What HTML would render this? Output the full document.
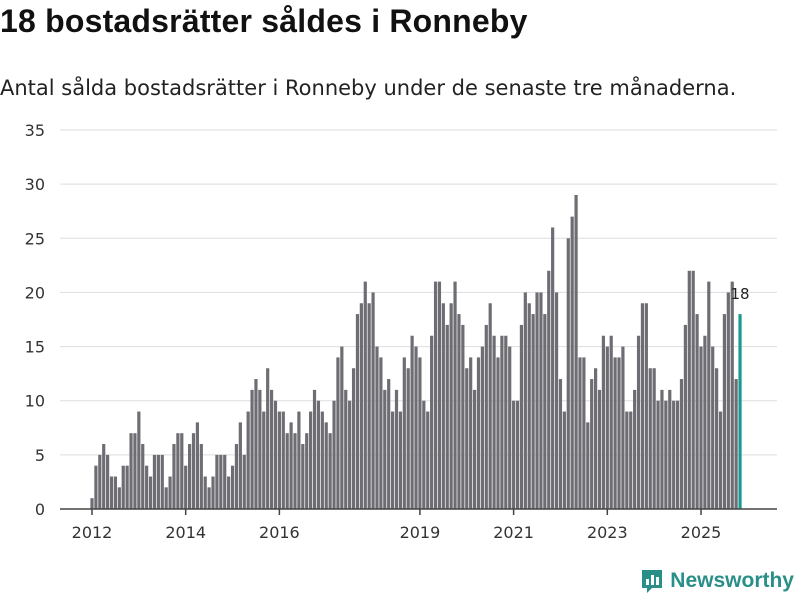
<!DOCTYPE html>
<html><head><meta charset="utf-8">
<style>
body{margin:0;width:800px;height:600px;background:#fff;font-family:"Liberation Sans","DejaVu Sans",sans-serif;overflow:hidden;position:relative}
#title{position:absolute;left:0;top:3px;font-size:32px;font-weight:bold;color:#111;white-space:nowrap;letter-spacing:0.2px}
#sub{position:absolute;left:0;top:76px;font-size:21px;color:#222;white-space:nowrap;font-family:"DejaVu Sans",sans-serif}
#logo{position:absolute;right:6px;top:568px;display:flex;align-items:center;font-size:21px;font-weight:bold;color:#2a8f88}
</style></head><body>
<div id="title">18 bostadsrätter såldes i Ronneby</div>
<div id="sub">Antal sålda bostadsrätter i Ronneby under de senaste tre månaderna.</div>
<svg id="chart" width="800" height="600" style="position:absolute;left:0;top:0"></svg>
<div id="logo">
<svg width="24" height="26" viewBox="0 0 24 26"><path d="M2 2h20v18H12l-5 5v-5H2z" fill="#2a8f88"/><rect x="6" y="11" width="3" height="6" fill="#fff"/><rect x="11" y="7" width="3" height="10" fill="#fff"/><rect x="16" y="9" width="3" height="8" fill="#fff"/></svg>
<span style="margin-left:6px">Newsworthy</span></div>
<script>
const values=[1,4,5,6,5,3,3,2,4,4,7,7,9,6,4,3,5,5,5,2,3,6,7,7,4,6,7,8,6,3,2,3,5,5,5,3,4,6,8,5,9,11,12,11,9,13,11,10,9,9,7,8,7,9,6,7,9,11,10,9,8,7,10,14,15,11,10,13,18,19,21,19,20,15,14,11,12,9,11,9,14,13,16,15,14,10,9,16,21,21,19,17,19,21,18,17,13,14,11,14,15,17,19,16,14,16,16,15,10,10,17,20,19,18,20,20,18,22,26,20,12,9,25,27,29,14,14,8,12,13,11,16,15,16,14,14,15,9,9,11,16,19,19,13,13,10,11,10,11,10,10,12,17,22,22,18,15,16,21,15,13,9,18,20,21,12,18];
const yTicks=[0,5,10,15,20,25,30,35];
const xTickYears=[2012,2014,2016,2019,2021,2023,2025];
const startYear=2012;
const NS="http://www.w3.org/2000/svg";
const svg=document.getElementById('chart');
const y0=509,pxPerUnit=(509-130)/35;
const xStart=92,pxPerMonth=(701-92)/(13*12);
const yS=v=>y0-v*pxPerUnit;
const xS=i=>xStart+i*pxPerMonth;
function mk(t,a){const e=document.createElementNS(NS,t);for(const k in a)e.setAttribute(k,a[k]);svg.appendChild(e);return e;}
yTicks.forEach(v=>{
 if(v>0){const g=mk('line',{x1:60,x2:777,y1:yS(v),y2:yS(v),stroke:'#ddd','stroke-width':1});
 
 }
 const t=mk('text',{x:45,y:yS(v)+6,'text-anchor':'end','font-size':16,fill:'#333','font-family':'DejaVu Sans, sans-serif'});
 t.textContent=v;
 
 
});
values.forEach((v,i)=>{
 const last=i===values.length-1;
 const r=mk('rect',{x:xS(i)-1.6,y:yS(v),width:3.2,height:v*pxPerUnit,fill:last?'#1a9a8f':'#6e6d73'});
 
 
});
const li=values.length-1;
const lbl=mk('text',{x:xS(li),y:yS(values[li])-15,'text-anchor':'middle','font-size':15,fill:'#222','font-family':'DejaVu Sans, sans-serif'});
lbl.textContent=values[li];


const ax=mk('line',{x1:60,x2:777,y1:y0,y2:y0,stroke:'#444','stroke-width':1.5});


xTickYears.forEach(yr=>{
 const x=xS((yr-startYear)*12);
 const tk=mk('line',{x1:x,x2:x,y1:y0,y2:y0+6,stroke:'#444','stroke-width':1.5});
 
 
 const t=mk('text',{x:x,y:538,'text-anchor':'middle','font-size':16,fill:'#333','font-family':'DejaVu Sans, sans-serif'});
 t.textContent=yr;
 
 
});
</script>
</body></html>
